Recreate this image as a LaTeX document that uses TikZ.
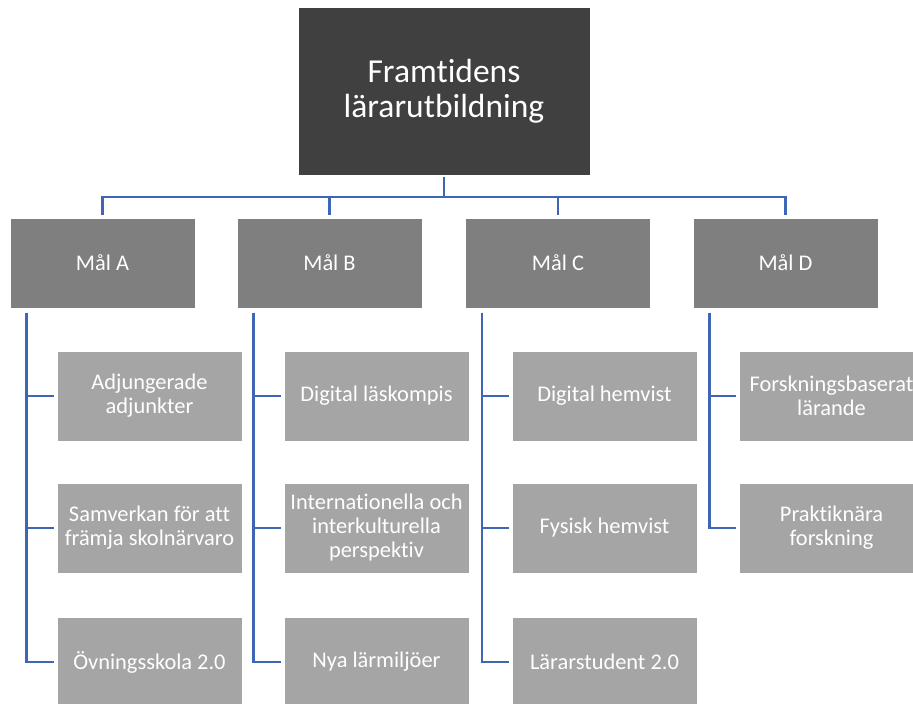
\documentclass[tikz,border=0pt]{standalone}
\usepackage{fontspec}
\setmainfont{Carlito}[Ligatures=NoCommon]
\usetikzlibrary{calc}
\definecolor{topfill}{HTML}{404040}
\definecolor{midfill}{HTML}{7F7F7F}
\definecolor{leaffill}{HTML}{A5A5A5}
\definecolor{linkblue}{HTML}{3F66B5}
\tikzset{
  topbox/.style={fill=topfill, draw=white, line width=1pt, minimum width=292pt, minimum height=168pt,
    text=white, align=center, font=\fontsize{33.5}{35}\selectfont, inner sep=0pt},
  goalbox/.style={fill=midfill, draw=white, line width=1pt, minimum width=185pt, minimum height=90pt,
    text=white, align=center, font=\fontsize{22.4}{24}\selectfont, inner sep=0pt},
  leafbox/.style={fill=leaffill, draw=white, line width=1pt, minimum width=185pt, minimum height=90pt,
    text=white, align=center, font=\fontsize{22.4}{24}\selectfont, inner sep=0pt},
  conn/.style={draw=linkblue, line width=2.4pt}
}
\begin{document}
\begin{tikzpicture}[x=1pt,y=-1pt]
\useasboundingbox (0,0) rectangle (913,704);
\clip (0,0) rectangle (913,704);
\fill[white] (0,0) rectangle (913,704);
\coordinate (bus) at (444,197);
% nodes
\node[topbox] (top) at (444,91) {Framtidens\\lärarutbildning};
\node[goalbox] (A) at (102.5,263) {Mål A};
\node[goalbox] (B) at (329.5,263) {Mål B};
\node[goalbox] (C) at (558,263) {Mål C};
\node[goalbox] (D) at (785.5,263) {Mål D};
\node[leafbox] (A1) at (149.5,396) {Adjungerade\\adjunkter};
\node[leafbox] (A2) at (149.5,528) {Samverkan för att\\främja skolnärvaro};
\node[leafbox] (A3) at (149.5,662) {Övningsskola 2.0};
\node[leafbox] (B1) at (376.5,396) {Digital läskompis};
\node[leafbox] (B2) at (376.5,528) {Internationella och\\interkulturella\\perspektiv};
\node[leafbox] (B3) at (376.5,662) {Nya lärmiljöer};
\node[leafbox] (C1) at (604.5,396) {Digital hemvist};
\node[leafbox] (C2) at (604.5,528) {Fysisk hemvist};
\node[leafbox] (C3) at (604.5,662) {Lärarstudent 2.0};
\node[leafbox] (D1) at (831.5,396) {Forskningsbaserat\\lärande};
\node[leafbox] (D2) at (831.5,528) {Praktiknära\\forskning};
% connectors
\draw[conn, shorten <=1pt] (top.south) -- (bus);
\foreach \g in {A,B,C,D}{
  \draw[conn, shorten <=4pt, line cap=rect] (\g.north) |- (bus);
}
\foreach \g/\n in {A/3,B/3,C/3,D/2}{
  \coordinate (\g s) at ($(\g.south west)+(17,4)$);
  \foreach \k in {1,...,\n}{
    \draw[conn, shorten >=3pt] (\g s) |- (\g\k.west);
  }
}
\end{tikzpicture}
\end{document}
